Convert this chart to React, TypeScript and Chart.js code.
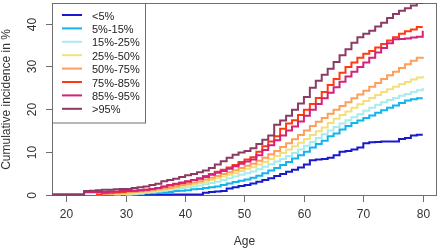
import React, { useEffect, useRef } from "react";
import { Chart, registerables } from "chart.js";

Chart.register(...registerables);

// Ages (years) at which the step values are given
const AGES = [
  17, 18, 19, 20, 21, 22, 23, 24, 25, 26,
  27, 28, 29, 30, 31, 32, 33, 34, 35, 36,
  37, 38, 39, 40, 41, 42, 43, 44, 45, 46,
  47, 48, 49, 50, 51, 52, 53, 54, 55, 56,
  57, 58, 59, 60, 61, 62, 63, 64, 65, 66,
  67, 68, 69, 70, 71, 72, 73, 74, 75, 76,
  77, 78, 79, 80,
];

const LABELS = ["<5%", "5%-15%", "15%-25%", "25%-50%", "50%-75%", "75%-85%", "85%-95%", ">95%"];
const COLORS = ["#1A1ACD", "#12B4F0", "#A8ECEE", "#F2E07E", "#FF9F5A", "#FF3A10", "#D2227A", "#8B3A62"];

const N = null;
const P_LT5 = [
  N, N, N, N, N, N, N, N, N, N,
  N, N, N, N, N, 0, 0, 0, 0, 0,
  0, 0, 0, 0, 0, 0, 0.4, 0.6, 0.7, 0.8,
  1.4, 1.7, 2.0, 2.2, 2.6, 3.0, 3.4, 3.8, 4.3, 4.8,
  5.3, 5.8, 6.3, 7.0, 8.0, 8.2, 8.3, 8.6, 9.2, 10.0,
  10.2, 10.5, 11.0, 12.0, 12.2, 12.3, 12.4, 12.4, 12.4, 13.0,
  13.2, 13.8, 14.0, 14.0,
];
const P_5_15 = [
  N, N, N, N, N, N, N, N, N, N,
  N, N, N, 0, 0.1, 0.2, 0.3, 0.3, 0.4, 0.5,
  0.6, 0.8, 0.9, 1.0, 1.2, 1.3, 1.5, 1.7, 1.9, 2.2,
  2.6, 2.9, 3.2, 3.5, 3.9, 4.4, 5.0, 5.6, 6.2, 6.9,
  7.6, 8.4, 9.2, 10.0, 11.0, 11.8, 12.6, 13.6, 14.3, 15.2,
  16.0, 16.7, 17.3, 17.9, 18.5, 19.1, 19.7, 20.3, 20.8, 21.4,
  22.0, 22.3, 22.5, 22.5,
];
const P_15_25 = [
  N, N, N, N, N, N, N, N, N, N,
  N, N, N, 0, 0.1, 0.2, 0.4, 0.5, 0.7, 0.9,
  1.1, 1.3, 1.5, 1.7, 1.9, 2.1, 2.4, 2.7, 3.0, 3.4,
  3.8, 4.2, 4.6, 5.0, 5.4, 5.9, 6.5, 7.1, 7.7, 8.3,
  9.0, 9.7, 10.5, 11.4, 12.3, 13.2, 14.1, 15.0, 15.8, 16.6,
  17.4, 18.1, 18.8, 19.6, 20.3, 21.0, 21.6, 22.1, 22.6, 23.1,
  23.5, 24.0, 24.4, 24.9,
];
const P_25_50 = [
  N, N, N, N, N, N, N, N, N, N,
  N, 0, 0.1, 0.2, 0.3, 0.4, 0.6, 0.7, 0.9, 1.1,
  1.3, 1.6, 1.8, 2.1, 2.4, 2.7, 3.0, 3.4, 3.8, 4.2,
  4.6, 5.0, 5.5, 6.0, 6.4, 7.0, 7.6, 8.3, 9.0, 9.7,
  10.5, 11.3, 12.1, 13.0, 13.9, 14.8, 15.7, 16.7, 17.7, 18.6,
  19.4, 20.3, 21.1, 21.9, 22.6, 23.3, 24.0, 24.6, 25.2, 25.8,
  26.3, 26.9, 27.4, 27.7,
];
const P_50_75 = [
  N, N, N, N, N, N, N, N, 0, 0.15,
  0.2, 0.3, 0.4, 0.5, 0.6, 0.7, 0.9, 1.0, 1.2, 1.4,
  1.6, 1.9, 2.2, 2.5, 2.8, 3.1, 3.5, 3.9, 4.3, 4.8,
  5.2, 5.7, 6.2, 6.7, 7.2, 7.9, 8.6, 9.4, 10.2, 11.1,
  12.0, 12.9, 13.9, 15.0, 16.0, 17.0, 17.9, 18.9, 19.8, 20.7,
  21.6, 22.5, 23.4, 24.3, 25.2, 26.1, 27.0, 27.9, 28.7, 29.6,
  30.5, 31.3, 32.0, 32.2,
];
const P_75_85 = [
  N, N, N, N, N, N, N, N, 0, 0.3,
  0.4, 0.5, 0.6, 0.8, 0.9, 1.0, 1.1, 1.3, 1.5, 1.8,
  2.1, 2.4, 2.7, 3.0, 3.4, 3.8, 4.3, 4.8, 5.3, 5.8,
  6.3, 6.9, 7.6, 8.2, 8.7, 10.0, 11.3, 12.4, 13.6, 15.4,
  16.6, 17.4, 18.6, 19.8, 21.2, 22.6, 24.0, 25.6, 27.0, 28.5,
  29.8, 30.9, 32.0, 32.9, 33.6, 34.4, 35.2, 36.0, 36.8, 37.6,
  38.2, 38.6, 39.2, 39.2,
];
const P_85_95 = [
  0, 0, 0, 0, 0, 0, 0.5, 0.5, 0.6, 0.6,
  0.7, 0.7, 0.8, 0.8, 0.9, 1.0, 1.1, 1.3, 1.5, 1.9,
  2.2, 2.5, 2.8, 3.1, 3.4, 3.7, 4.1, 4.6, 5.1, 5.5,
  6.0, 6.6, 7.2, 7.7, 8.2, 9.2, 10.4, 11.5, 12.7, 13.8,
  15.0, 15.9, 17.1, 18.4, 19.8, 21.2, 22.5, 23.8, 25.1, 26.4,
  27.6, 28.7, 29.8, 30.9, 32.0, 33.2, 34.3, 35.4, 36.3, 36.4,
  36.5, 36.7, 36.9, 38.3,
];
const P_GT95 = [
  0, 0, 0, 0, 0, 0, 0.8, 0.9, 1.0, 1.1,
  1.1, 1.2, 1.3, 1.3, 1.5, 1.7, 1.9, 2.2, 2.5, 3.1,
  3.4, 3.7, 4.1, 4.5, 4.8, 5.2, 5.6, 6.2, 7.0, 7.8,
  8.6, 9.3, 9.8, 10.2, 10.8, 11.8, 12.8, 13.8, 16.3, 17.3,
  18.4, 19.8, 21.3, 22.8, 25.0, 26.6, 28.0, 29.4, 31.0, 32.6,
  34.0, 35.5, 36.8, 37.6, 38.3, 39.3, 40.2, 41.3, 42.2, 43.0,
  43.6, 44.2, 44.8, 44.8,
];

const SERIES = [P_LT5, P_5_15, P_15_25, P_25_50, P_50_75, P_75_85, P_85_95, P_GT95];

const X_TICKS = [20, 30, 40, 50, 60, 70, 80];
const Y_TICKS = [0, 10, 20, 30, 40];
const X_TITLE = "Age";
const Y_TITLE = "Cumulative incidence in %";

const FONT = "'Liberation Sans', Arial, sans-serif";

const rPlot = {
  id: "rPlot",
  beforeDatasetsDraw(chart: any) {
    const { ctx, chartArea: ca } = chart;
    ctx.save();
    ctx.strokeStyle = "#6e6e6e";
    ctx.lineWidth = 1;
    ctx.strokeRect(ca.left + 0.5, ca.top + 0.5, ca.right - ca.left - 1, ca.bottom - ca.top - 1);
    ctx.restore();
  },
  afterDraw(chart: any) {
    const { ctx, chartArea: ca, scales } = chart;
    const xs = scales.x;
    const ys = scales.y;
    ctx.save();
    ctx.strokeStyle = "#6e6e6e";
    ctx.lineWidth = 1;
    ctx.fillStyle = "#333";
    ctx.font = `12px ${FONT}`;
    // x axis ticks
    ctx.textAlign = "center";
    ctx.textBaseline = "middle";
    for (const t of X_TICKS) {
      const px = Math.round(xs.getPixelForValue(t)) + 0.5;
      ctx.beginPath();
      ctx.moveTo(px, ca.bottom);
      ctx.lineTo(px, ca.bottom + 6);
      ctx.stroke();
      ctx.fillText(String(t), px, ca.bottom + 19);
    }
    // y axis ticks
    for (const t of Y_TICKS) {
      const py = Math.round(ys.getPixelForValue(t)) + 0.5;
      ctx.beginPath();
      ctx.moveTo(ca.left, py);
      ctx.lineTo(ca.left - 6, py);
      ctx.stroke();
      ctx.save();
      ctx.translate(ca.left - 19, py);
      ctx.rotate(-Math.PI / 2);
      ctx.fillText(String(t), 0, 0);
      ctx.restore();
    }
    // titles
    ctx.fillText(X_TITLE, (ca.left + ca.right) / 2, ca.bottom + 46);
    ctx.save();
    ctx.translate(7, (ca.top + ca.bottom) / 2);
    ctx.rotate(-Math.PI / 2);
    ctx.fillText(Y_TITLE, 0, 0);
    ctx.restore();

    // legend
    const lx = ca.left;
    const ly = ca.top;
    const lw = 93;
    const lh = 119.5;
    ctx.fillStyle = "#fff";
    ctx.fillRect(lx, ly, lw, lh);
    ctx.strokeStyle = "#6e6e6e";
    ctx.strokeRect(lx + 0.5, ly + 0.5, lw, lh);
    ctx.font = `11px ${FONT}`;
    ctx.textAlign = "left";
    ctx.textBaseline = "middle";
    LABELS.forEach((lab, i) => {
      const yy = ly + 12 + i * 13.4;
      ctx.strokeStyle = COLORS[i];
      ctx.lineWidth = 2;
      ctx.beginPath();
      ctx.moveTo(lx + 10, yy);
      ctx.lineTo(lx + 30, yy);
      ctx.stroke();
      ctx.fillStyle = "#222";
      ctx.fillText(lab, lx + 40, yy + 1.5);
    });
    ctx.restore();
  },
};

export default function App() {
  const ref = useRef<HTMLCanvasElement | null>(null);
  useEffect(() => {
    if (!ref.current) return;
    const datasets = SERIES.map((vals, i) => ({
      label: LABELS[i],
      data: AGES.map((a, k) => ({ x: a, y: vals[k] })),
      borderColor: COLORS[i],
      backgroundColor: COLORS[i],
      borderWidth: 2,
      pointRadius: 0,
      stepped: "before" as const,
      fill: false,
      order: SERIES.length - i,
    }));
    const chart = new Chart(ref.current, {
      type: "line",
      data: { datasets },
      options: {
        animation: false,
        responsive: false,
        devicePixelRatio: 1,
        layout: { padding: { left: 52, right: 3, top: 3, bottom: 54 } },
        scales: {
          x: { type: "linear", min: 17.6, max: 82.4, display: false },
          y: { type: "linear", min: -0.35, max: 44.8, display: false },
        },
        plugins: {
          legend: { display: false },
          tooltip: { enabled: false },
        },
      },
      plugins: [rPlot],
    });
    return () => chart.destroy();
  }, []);
  return (
    <div style={{ position: "absolute", left: 0, top: 0, width: 440, height: 250, background: "#fff" }}>
      <canvas ref={ref} width={440} height={250} style={{ width: 440, height: 250, display: "block" }} />
    </div>
  );
}
